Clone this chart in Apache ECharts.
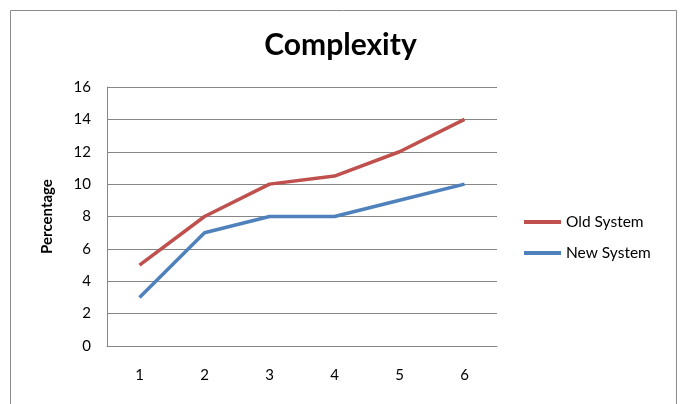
<!DOCTYPE html>
<html>
<head>
<meta charset="utf-8">
<script src="https://cdn.jsdelivr.net/npm/echarts@6/dist/echarts.min.js"></script>
<style>
  html, body { margin: 0; padding: 0; background: #fff; }
  #chart { width: 681px; height: 404px; }
</style>
</head>
<body>
<div id="chart"></div>
<script>
// chart data
const categories = ['1', '2', '3', '4', '5', '6'];
const oldSystem = [5, 8, 10, 10.5, 12, 14];
const newSystem = [3, 7, 8, 8, 9, 10];

const chart = echarts.init(document.getElementById('chart'));
const font = 'Lato, "Open Sans", sans-serif';

chart.setOption({
  animation: false,
  backgroundColor: '#fff',
  title: {
    text: 'Complexity',
    left: 'center',
    top: 25,
    textStyle: { fontFamily: font, fontSize: 30, fontWeight: 'bold', color: '#000' }
  },
  // chart area border, like the Excel chart frame
  graphic: [{
    type: 'rect',
    shape: { x: 10.5, y: 10.5, width: 666, height: 410 },
    style: { fill: 'none', stroke: '#8c8c8c', lineWidth: 1 },
    silent: true
  }],
  legend: {
    orient: 'vertical',
    left: 519,
    top: 209,
    itemWidth: 37,
    itemHeight: 4,
    itemGap: 15,
    icon: 'rect',
    textStyle: { fontFamily: font, fontSize: 15.5, color: '#000' },
    data: ['Old System', 'New System']
  },
  grid: { left: 107, right: 184, top: 87, bottom: 58 },
  xAxis: {
    type: 'category',
    data: categories,
    axisLine: { lineStyle: { color: '#868686' } },
    axisTick: { show: false },
    axisLabel: { fontFamily: font, fontSize: 15, color: '#000', margin: 22 }
  },
  yAxis: {
    type: 'value',
    min: 0,
    max: 16,
    interval: 2,
    name: 'Percentage',
    nameLocation: 'middle',
    nameGap: 52,
    nameRotate: 90,
    nameTextStyle: { fontFamily: font, fontSize: 15, fontWeight: 'bold', color: '#000' },
    axisLine: { show: true, lineStyle: { color: '#868686' } },
    axisTick: { show: false },
    axisLabel: { fontFamily: font, fontSize: 15, color: '#000', margin: 16 },
    splitLine: { lineStyle: { color: '#868686' } }
  },
  series: [
    {
      name: 'Old System',
      type: 'line',
      data: oldSystem,
      showSymbol: false,
      color: '#C0504D',
      lineStyle: { width: 3.5 }
    },
    {
      name: 'New System',
      type: 'line',
      data: newSystem,
      showSymbol: false,
      color: '#4F81BD',
      lineStyle: { width: 3.5 }
    }
  ]
});

window.addEventListener('resize', () => chart.resize());
</script>
</body>
</html>
